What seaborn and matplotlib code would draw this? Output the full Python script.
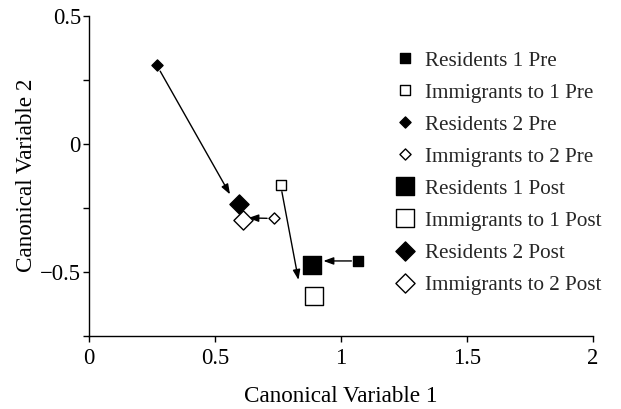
import matplotlib
matplotlib.use("Agg")
import matplotlib.pyplot as plt
import seaborn as sns
import pandas as pd

# ---- data ----
series = ["Residents 1 Pre", "Immigrants to 1 Pre", "Residents 2 Pre", "Immigrants to 2 Pre",
          "Residents 1 Post", "Immigrants to 1 Post", "Residents 2 Post", "Immigrants to 2 Post"]
cv1 = [1.069, 0.760, 0.268, 0.734, 0.885, 0.894, 0.595, 0.609]
cv2 = [-0.458, -0.161, 0.307, -0.292, -0.474, -0.595, -0.237, -0.298]

# arrows: start at a "Pre" series, head at given point
arrow_from = ["Residents 1 Pre", "Immigrants to 1 Pre", "Residents 2 Pre", "Immigrants to 2 Pre"]
arrow_tip_x = [0.930, 0.831, 0.559, 0.632]
arrow_tip_y = [-0.458, -0.532, -0.198, -0.290]

x_ticks = [0, 0.5, 1, 1.5, 2]
x_ticklabels = ["0", "0.5", "1", "1.5", "2"]
y_ticks = [-0.75, -0.5, -0.25, 0, 0.25, 0.5]
y_ticklabels = ["", "\u22120.5", "", "0", "", "0.5"]

df = pd.DataFrame({"series": series, "cv1": cv1, "cv2": cv2})

# ---- styles ----
markers = ["s", "s", "D", "D", "s", "s", "D", "D"]
sizes = [52, 52, 32, 32, 175, 175, 95, 95]
faces = ["black", "white", "black", "white", "black", "white", "black", "white"]

sns.set_style("ticks")
plt.rcParams["font.family"] = ["Liberation Serif", "DejaVu Serif"]
plt.rcParams["axes.unicode_minus"] = True

fig = plt.figure(figsize=(6.21, 4.09), dpi=100)
ax = fig.add_axes([89.3 / 621, 1 - 335.7 / 409, (592.7 - 89.3) / 621, (335.7 - 15.7) / 409])

for i, name in enumerate(series):
    sub = df[df["series"] == name]
    sns.scatterplot(data=sub, x="cv1", y="cv2", marker=markers[i], s=sizes[i],
                    color=faces[i], edgecolor="black", linewidth=1.0,
                    label=name, ax=ax, zorder=3, clip_on=False)

for src, tx, ty in zip(arrow_from, arrow_tip_x, arrow_tip_y):
    row = df[df["series"] == src].iloc[0]
    ax.annotate("", xy=(tx, ty), xytext=(row["cv1"], row["cv2"]),
                arrowprops=dict(arrowstyle="-|>,head_length=0.6,head_width=0.22",
                                color="black", lw=1.0, shrinkA=5, shrinkB=0,
                                mutation_scale=10),
                zorder=2)

ax.set_xlim(0, 2)
ax.set_ylim(-0.75, 0.5)
ax.set_xticks(x_ticks)
ax.set_xticklabels(x_ticklabels)
ax.set_yticks(y_ticks)
ax.set_yticklabels(y_ticklabels)
ax.tick_params(axis="both", direction="out", length=4, width=1.0, labelsize=16.3,
               color="black", labelcolor="black")
ax.tick_params(axis="y", pad=2)
ax.tick_params(axis="x", pad=5)
ax.set_xlabel("Canonical Variable 1", fontsize=16.7, color="black", labelpad=12)
ax.set_ylabel("Canonical Variable 2", fontsize=16.7, color="black", labelpad=2)
sns.despine(ax=ax)
for sp in ["left", "bottom"]:
    ax.spines[sp].set_linewidth(1.0)
    ax.spines[sp].set_color("black")
ax.set_facecolor("white")

leg = ax.legend(loc="upper left", bbox_to_anchor=(394.6 / 621, 1 - 51 / 409),
                bbox_transform=fig.transFigure, frameon=False, fontsize=15.2,
                handlelength=1.0, handletextpad=0.46, labelspacing=0.58,
                borderpad=0, borderaxespad=0, scatterpoints=1, scatteryoffsets=[0.5])

fig.savefig("out.png", dpi=100, facecolor="white")
